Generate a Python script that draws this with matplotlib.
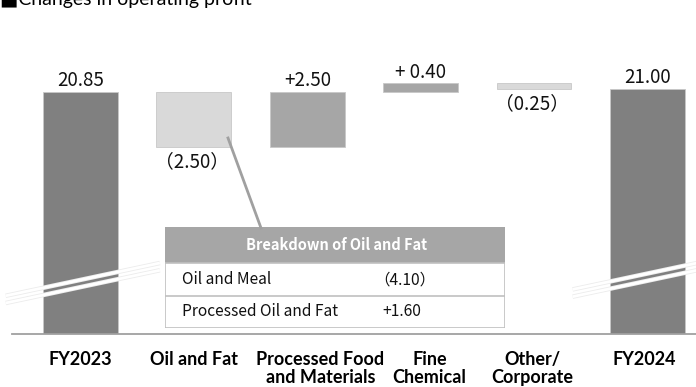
import numpy as np
import matplotlib.pyplot as plt
import matplotlib.patheffects as pe
import matplotlib.transforms as mtransforms
from matplotlib.patches import Rectangle
from matplotlib.lines import Line2D

# ---- data ----
categories = ['FY2023', 'Oil and Fat', 'Processed Food\nand Materials',
              'Fine\nChemical', 'Other/\nCorporate', 'FY2024']
start_total = 20.85
changes = [-2.50, 2.50, 0.40, -0.25]
end_total = 21.00
value_labels = ['20.85', '（2.50）', '+2.50', '+ 0.40', '（0.25）', '21.00']

breakdown_title = 'Breakdown of Oil and Fat'
breakdown_items = ['Oil and Meal', 'Processed Oil and Fat']
breakdown_values = ['（4.10）', '+1.60']

y_floor = 9.80  # axis is truncated (broken bars)

dark = '#808080'
mid = '#a6a6a6'
light = '#d9d9d9'
num_font = ['Noto Sans CJK JP', 'DejaVu Sans']

fig = plt.figure(figsize=(6.96, 3.87), dpi=100)
W, H = 696, 387


def px(x, y, w, h):
    return [x / W, 1 - (y + h) / H, w / W, h / H]


ax = fig.add_axes(px(12, 40, 684, 294))

# waterfall geometry
bottoms, heights, colors = [], [], []
bottoms.append(y_floor)
heights.append(start_total - y_floor)
colors.append(dark)
level = start_total
for c in changes:
    lo = min(level, level + c)
    bottoms.append(lo)
    heights.append(abs(c))
    colors.append(mid if c > 0 else light)
    level += c
bottoms.append(y_floor)
heights.append(end_total - y_floor)
colors.append(dark)

x = np.arange(len(categories))
ax.bar(x, heights, bottom=bottoms, width=0.66, color=colors,
       edgecolor='#c8c8c8', linewidth=0.6, zorder=2)

# value labels
for i in range(len(categories)):
    top = bottoms[i] + heights[i]
    if i in (1, 4):
        ax.text(i - 0.02, bottoms[i] - 0.2, value_labels[i], ha='center',
                va='top', fontsize=13.5, family=num_font, color='#111111')
    else:
        ax.text(i, top + 0.02, value_labels[i], ha='center', va='bottom',
                fontsize=13.5, family=num_font, color='#111111')

# break marks on the total bars
for i, yc in [(0, 12.27), (5, 12.56)]:
    xs = np.array([i - 0.66, i + 0.7 if i == 0 else i + 0.6])
    for off in (0.0, -0.33):
        ys = yc + off + 1.1 * (xs - i)
        ax.plot(xs, ys, color='white', lw=2.0, zorder=3, solid_capstyle='butt',
                clip_on=False,
                path_effects=[pe.Stroke(linewidth=3.2, foreground='#ececec'),
                              pe.Normal()])

ax.set_xlim(-0.604, 5.428)
ax.set_ylim(y_floor, 23.22)
for s in ['top', 'right', 'left']:
    ax.spines[s].set_visible(False)
ax.spines['bottom'].set_color('#a0a0a0')
ax.spines['bottom'].set_linewidth(1.3)
ax.spines['bottom'].set_zorder(4)
ax.set_yticks([])
ax.set_xticks(x)
ax.set_xticklabels(categories, fontsize=13, fontweight='bold',
                   family=['Lato', 'DejaVu Sans'], linespacing=1.12)
ax.tick_params(axis='x', length=0, pad=12)

# a couple of category labels sit a bit right of their bar
shift_px = [0, 0, 13, 9, -2, -3]
for lab, dx in zip(ax.get_xticklabels(), shift_px):
    lab.set_transform(lab.get_transform() +
                      mtransforms.ScaledTranslation(dx / 100, 0,
                                                    fig.dpi_scale_trans))

# connector from Oil and Fat bar to the breakdown table
fig.add_artist(Line2D([228 / W, 261 / W], [1 - 138 / H, 1 - 228 / H],
                      color='#a0a0a0', lw=2.0, zorder=4))

# breakdown table
tax = fig.add_axes(px(165, 227, 340, 101))
tax.set_xlim(0, 340)
tax.set_ylim(101, 0)
tax.axis('off')
tax.add_patch(Rectangle((0, 0), 340, 36, facecolor=mid, edgecolor='none'))
tax.add_patch(Rectangle((0, 36), 340, 65, facecolor='white',
                        edgecolor='#c0c0c0', lw=1.2))
tax.plot([0, 340], [69, 69], color='#c0c0c0', lw=1.2)
tax.text(172, 18, breakdown_title, ha='center', va='center', color='white',
         fontsize=10.5, fontweight='bold', family=num_font)
val_x = [209, 217]
for k, (name, val) in enumerate(zip(breakdown_items, breakdown_values)):
    yy = 53 + k * 32
    tax.text(17, yy, name, ha='left', va='center', fontsize=11.2,
             family=num_font, color='#111111')
    tax.text(val_x[k], yy, val, ha='left', va='center', fontsize=11.2,
             family=num_font, color='#111111')

fig.text(0, 1 - 4.5 / H, '■Changes in operating profit', ha='left',
         va='baseline', fontsize=14, family=['Lato', 'DejaVu Sans'])

fig.savefig('out.png', dpi=100)
